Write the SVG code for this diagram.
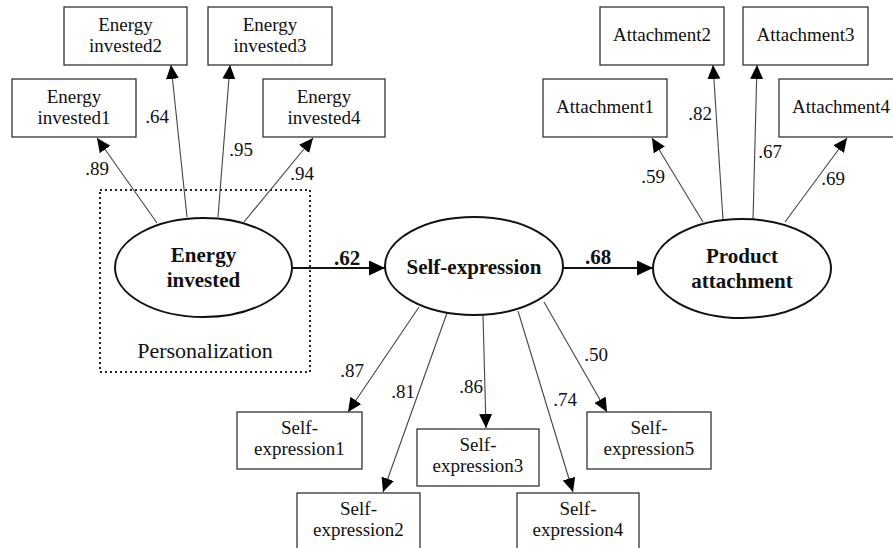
<svg xmlns="http://www.w3.org/2000/svg" width="893" height="548" viewBox="0 0 893 548">
<defs>
<marker id="ah" markerUnits="userSpaceOnUse" markerWidth="16" markerHeight="14" refX="14" refY="6.5" orient="auto"><path d="M0,0 L14,6.5 L0,13 z" fill="#000"/></marker>
<marker id="ah2" markerUnits="userSpaceOnUse" markerWidth="18" markerHeight="16" refX="16" refY="7.5" orient="auto"><path d="M0,0 L16,7.5 L0,15 z" fill="#000"/></marker>
</defs>
<rect width="893" height="548" fill="#fff"/>
<g id="personalization">
<rect x="100" y="190" width="210" height="182" fill="none" stroke="#222" stroke-width="2" stroke-dasharray="2 3"/>
<text x="205" y="358" font-family="Times New Roman, Liberation Serif, serif" font-size="22" fill="#111" text-anchor="middle">Personalization</text>
</g>
<g id="connectors">
<g stroke="#444" stroke-width="1.1" fill="none" marker-end="url(#ah)">
<line x1="157" y1="223" x2="97" y2="138"/>
<line x1="187" y1="217" x2="171" y2="65"/>
<line x1="218" y1="217" x2="230" y2="65"/>
<line x1="244" y1="222" x2="313" y2="138"/>
<line x1="703" y1="222" x2="652" y2="138"/>
<line x1="723" y1="220" x2="713" y2="65"/>
<line x1="753" y1="220" x2="757" y2="65"/>
<line x1="785" y1="222" x2="847" y2="138"/>
<line x1="419" y1="307" x2="348" y2="412"/>
<line x1="447" y1="313" x2="383" y2="492"/>
<line x1="483" y1="315" x2="486" y2="428"/>
<line x1="518" y1="311" x2="573" y2="492"/>
<line x1="544" y1="302" x2="607" y2="412"/>
</g>
<g stroke="#111" stroke-width="2.2" fill="none" marker-end="url(#ah2)">
<line x1="293" y1="268" x2="385" y2="268"/>
<line x1="563" y1="268" x2="653" y2="268"/>
</g>
<text x="97" y="175" font-family="Times New Roman, Liberation Serif, serif" font-size="19" fill="#111" text-anchor="middle">.89</text>
<text x="157" y="123" font-family="Times New Roman, Liberation Serif, serif" font-size="19" fill="#111" text-anchor="middle">.64</text>
<text x="241" y="156" font-family="Times New Roman, Liberation Serif, serif" font-size="19" fill="#111" text-anchor="middle">.95</text>
<text x="302" y="180" font-family="Times New Roman, Liberation Serif, serif" font-size="19" fill="#111" text-anchor="middle">.94</text>
<text x="653" y="183" font-family="Times New Roman, Liberation Serif, serif" font-size="19" fill="#111" text-anchor="middle">.59</text>
<text x="700" y="120" font-family="Times New Roman, Liberation Serif, serif" font-size="19" fill="#111" text-anchor="middle">.82</text>
<text x="770" y="158" font-family="Times New Roman, Liberation Serif, serif" font-size="19" fill="#111" text-anchor="middle">.67</text>
<text x="833" y="185" font-family="Times New Roman, Liberation Serif, serif" font-size="19" fill="#111" text-anchor="middle">.69</text>
<text x="352" y="377" font-family="Times New Roman, Liberation Serif, serif" font-size="19" fill="#111" text-anchor="middle">.87</text>
<text x="403" y="398" font-family="Times New Roman, Liberation Serif, serif" font-size="19" fill="#111" text-anchor="middle">.81</text>
<text x="471" y="393" font-family="Times New Roman, Liberation Serif, serif" font-size="19" fill="#111" text-anchor="middle">.86</text>
<text x="565" y="406" font-family="Times New Roman, Liberation Serif, serif" font-size="19" fill="#111" text-anchor="middle">.74</text>
<text x="596" y="361" font-family="Times New Roman, Liberation Serif, serif" font-size="19" fill="#111" text-anchor="middle">.50</text>
<text x="347" y="265" font-family="Times New Roman, Liberation Serif, serif" font-size="21" font-weight="bold" fill="#111" text-anchor="middle">.62</text>
<text x="598" y="264" font-family="Times New Roman, Liberation Serif, serif" font-size="21" font-weight="bold" fill="#111" text-anchor="middle">.68</text>
</g>
<g id="energy-invested"><ellipse cx="203.5" cy="267.5" rx="88.5" ry="49.5" fill="#fff" stroke="#111" stroke-width="2"/><text x="203.5" y="262" font-family="Times New Roman, Liberation Serif, serif" font-size="21" font-weight="bold" fill="#111" text-anchor="middle">Energy</text><text x="203.5" y="287" font-family="Times New Roman, Liberation Serif, serif" font-size="21" font-weight="bold" fill="#111" text-anchor="middle">invested</text></g>
<g id="self-expression"><ellipse cx="474" cy="266" rx="89" ry="49" fill="#fff" stroke="#111" stroke-width="2"/><text x="474" y="274" font-family="Times New Roman, Liberation Serif, serif" font-size="21" font-weight="bold" fill="#111" text-anchor="middle">Self-expression</text></g>
<g id="product-attachment"><ellipse cx="742" cy="268.5" rx="89" ry="49.5" fill="#fff" stroke="#111" stroke-width="2"/><text x="742" y="263" font-family="Times New Roman, Liberation Serif, serif" font-size="21" font-weight="bold" fill="#111" text-anchor="middle">Product</text><text x="742" y="288" font-family="Times New Roman, Liberation Serif, serif" font-size="21" font-weight="bold" fill="#111" text-anchor="middle">attachment</text></g>
<g id="ei1"><rect x="12" y="79" width="124" height="58" fill="#fff" stroke="#333" stroke-width="1.3"/><text x="74" y="103" font-family="Times New Roman, Liberation Serif, serif" font-size="19" fill="#111" text-anchor="middle">Energy</text><text x="74" y="124" font-family="Times New Roman, Liberation Serif, serif" font-size="19" fill="#111" text-anchor="middle">invested1</text></g>
<g id="ei2"><rect x="64" y="7" width="123" height="58" fill="#fff" stroke="#333" stroke-width="1.3"/><text x="125.5" y="31" font-family="Times New Roman, Liberation Serif, serif" font-size="19" fill="#111" text-anchor="middle">Energy</text><text x="125.5" y="52" font-family="Times New Roman, Liberation Serif, serif" font-size="19" fill="#111" text-anchor="middle">invested2</text></g>
<g id="ei3"><rect x="208" y="7" width="124" height="58" fill="#fff" stroke="#333" stroke-width="1.3"/><text x="270" y="31" font-family="Times New Roman, Liberation Serif, serif" font-size="19" fill="#111" text-anchor="middle">Energy</text><text x="270" y="52" font-family="Times New Roman, Liberation Serif, serif" font-size="19" fill="#111" text-anchor="middle">invested3</text></g>
<g id="ei4"><rect x="263" y="79" width="122" height="58" fill="#fff" stroke="#333" stroke-width="1.3"/><text x="324" y="103" font-family="Times New Roman, Liberation Serif, serif" font-size="19" fill="#111" text-anchor="middle">Energy</text><text x="324" y="124" font-family="Times New Roman, Liberation Serif, serif" font-size="19" fill="#111" text-anchor="middle">invested4</text></g>
<g id="a1"><rect x="543" y="79" width="124" height="58" fill="#fff" stroke="#333" stroke-width="1.3"/><text x="605" y="113" font-family="Times New Roman, Liberation Serif, serif" font-size="19" fill="#111" text-anchor="middle">Attachment1</text></g>
<g id="a2"><rect x="600" y="7" width="124" height="58" fill="#fff" stroke="#333" stroke-width="1.3"/><text x="662" y="41" font-family="Times New Roman, Liberation Serif, serif" font-size="19" fill="#111" text-anchor="middle">Attachment2</text></g>
<g id="a3"><rect x="743" y="7" width="125" height="58" fill="#fff" stroke="#333" stroke-width="1.3"/><text x="805.5" y="41" font-family="Times New Roman, Liberation Serif, serif" font-size="19" fill="#111" text-anchor="middle">Attachment3</text></g>
<g id="a4"><rect x="779" y="79" width="124" height="58" fill="#fff" stroke="#333" stroke-width="1.3"/><text x="841" y="113" font-family="Times New Roman, Liberation Serif, serif" font-size="19" fill="#111" text-anchor="middle">Attachment4</text></g>
<g id="se1"><rect x="237" y="412" width="125" height="57" fill="#fff" stroke="#333" stroke-width="1.3"/><text x="299.5" y="434" font-family="Times New Roman, Liberation Serif, serif" font-size="19" fill="#111" text-anchor="middle">Self-</text><text x="299.5" y="455" font-family="Times New Roman, Liberation Serif, serif" font-size="19" fill="#111" text-anchor="middle">expression1</text></g>
<g id="se2"><rect x="297" y="493" width="123" height="57" fill="#fff" stroke="#333" stroke-width="1.3"/><text x="358.5" y="515" font-family="Times New Roman, Liberation Serif, serif" font-size="19" fill="#111" text-anchor="middle">Self-</text><text x="358.5" y="536" font-family="Times New Roman, Liberation Serif, serif" font-size="19" fill="#111" text-anchor="middle">expression2</text></g>
<g id="se3"><rect x="417" y="429" width="122" height="57" fill="#fff" stroke="#333" stroke-width="1.3"/><text x="478" y="451" font-family="Times New Roman, Liberation Serif, serif" font-size="19" fill="#111" text-anchor="middle">Self-</text><text x="478" y="472" font-family="Times New Roman, Liberation Serif, serif" font-size="19" fill="#111" text-anchor="middle">expression3</text></g>
<g id="se4"><rect x="517" y="493" width="122" height="57" fill="#fff" stroke="#333" stroke-width="1.3"/><text x="578" y="515" font-family="Times New Roman, Liberation Serif, serif" font-size="19" fill="#111" text-anchor="middle">Self-</text><text x="578" y="536" font-family="Times New Roman, Liberation Serif, serif" font-size="19" fill="#111" text-anchor="middle">expression4</text></g>
<g id="se5"><rect x="587" y="412" width="124" height="57" fill="#fff" stroke="#333" stroke-width="1.3"/><text x="649" y="434" font-family="Times New Roman, Liberation Serif, serif" font-size="19" fill="#111" text-anchor="middle">Self-</text><text x="649" y="455" font-family="Times New Roman, Liberation Serif, serif" font-size="19" fill="#111" text-anchor="middle">expression5</text></g>
</svg>
